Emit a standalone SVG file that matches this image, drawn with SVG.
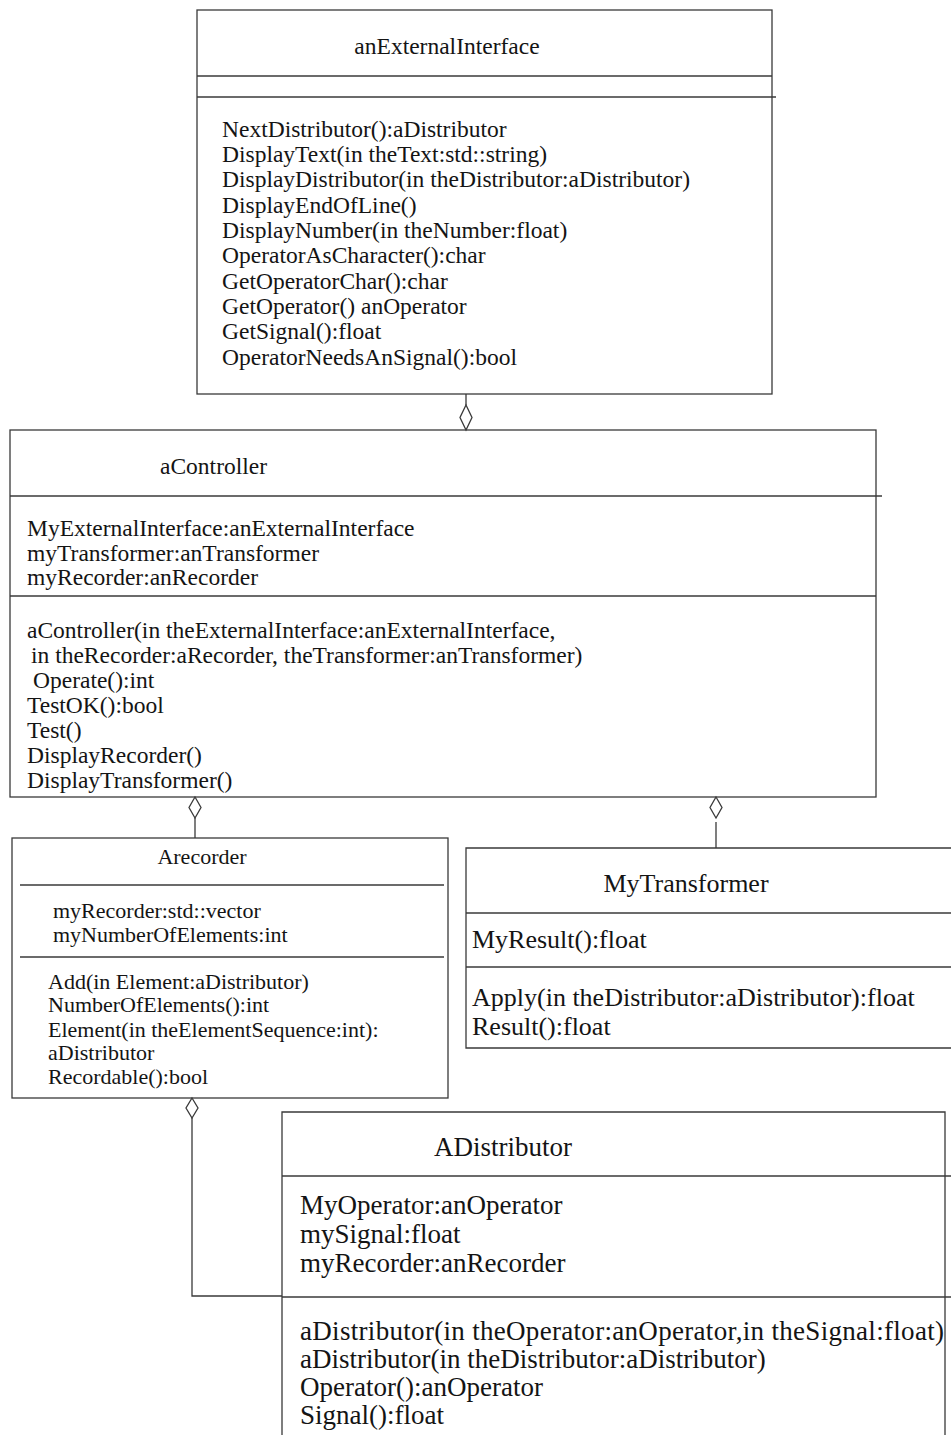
<svg xmlns="http://www.w3.org/2000/svg" width="951" height="1435" viewBox="0 0 951 1435">
<style>
.ln{fill:none;stroke:#3a3a3a;stroke-width:1.3}
.dm{fill:#fff;stroke:#3a3a3a;stroke-width:1.3}
.t{font-family:"Liberation Serif","Times New Roman",serif;fill:#141414}
.s23{font-size:23.5px}
.s22{font-size:22px}
.s26{font-size:26px}
.s27{font-size:27px}
.c{text-anchor:middle}
</style>
<rect width="951" height="1435" fill="#fff"/>
<g id="anExternalInterface">
<rect class="ln" x="197" y="10" width="575" height="384"/>
<line class="ln" x1="197" y1="76" x2="772" y2="76"/>
<line class="ln" x1="197" y1="97" x2="776" y2="97"/>
<text class="t s23 c" x="447" y="54">anExternalInterface</text>
<g class="t s23">
<text x="222" y="137">NextDistributor():aDistributor</text>
<text x="222" y="162">DisplayText(in theText:std::string)</text>
<text x="222" y="187">DisplayDistributor(in theDistributor:aDistributor)</text>
<text x="222" y="213">DisplayEndOfLine()</text>
<text x="222" y="238">DisplayNumber(in theNumber:float)</text>
<text x="222" y="263">OperatorAsCharacter():char</text>
<text x="222" y="289">GetOperatorChar():char</text>
<text x="222" y="314">GetOperator() anOperator</text>
<text x="222" y="339">GetSignal():float</text>
<text x="222" y="365">OperatorNeedsAnSignal():bool</text>
</g>
</g>
<g id="aController">
<rect class="ln" x="10" y="430" width="866" height="367"/>
<line class="ln" x1="10" y1="496" x2="882" y2="496"/>
<line class="ln" x1="10" y1="596" x2="876" y2="596"/>
<text class="t s23" x="160" y="474">aController</text>
<g class="t s23">
<text x="27" y="536">MyExternalInterface:anExternalInterface</text>
<text x="27" y="561">myTransformer:anTransformer</text>
<text x="27" y="585">myRecorder:anRecorder</text>
<text x="27" y="638">aController(in theExternalInterface:anExternalInterface,</text>
<text x="31" y="663">in theRecorder:aRecorder, theTransformer:anTransformer)</text>
<text x="33" y="688">Operate():int</text>
<text x="27" y="713">TestOK():bool</text>
<text x="27" y="738">Test()</text>
<text x="27" y="763">DisplayRecorder()</text>
<text x="27" y="788">DisplayTransformer()</text>
</g>
</g>
<g id="Arecorder">
<rect class="ln" x="12" y="838" width="436" height="260"/>
<line class="ln" x1="20" y1="885" x2="444" y2="885"/>
<line class="ln" x1="20" y1="957" x2="444" y2="957"/>
<text class="t s22 c" x="202" y="864">Arecorder</text>
<g class="t s22">
<text x="53" y="918">myRecorder:std::vector</text>
<text x="53" y="942">myNumberOfElements:int</text>
<text x="48" y="989">Add(in Element:aDistributor)</text>
<text x="48" y="1012">NumberOfElements():int</text>
<text x="48" y="1037">Element(in theElementSequence:int):</text>
<text x="48" y="1060">aDistributor</text>
<text x="48" y="1084">Recordable():bool</text>
</g>
</g>
<g id="MyTransformer">
<path class="ln" d="M951 848 H466 V1048 H951"/>
<line class="ln" x1="466" y1="913" x2="951" y2="913"/>
<line class="ln" x1="466" y1="967" x2="951" y2="967"/>
<text class="t s26 c" x="686" y="892">MyTransformer</text>
<g class="t s26">
<text x="472" y="948">MyResult():float</text>
<text x="472" y="1006">Apply(in theDistributor:aDistributor):float</text>
<text x="472" y="1035">Result():float</text>
</g>
</g>
<g id="ADistributor">
<path class="ln" d="M282 1435 V1112 H945 V1435"/>
<line class="ln" x1="282" y1="1176" x2="951" y2="1176"/>
<line class="ln" x1="282" y1="1297" x2="951" y2="1297"/>
<text class="t s27 c" x="503" y="1156">ADistributor</text>
<g class="t s27">
<text x="300" y="1214">MyOperator:anOperator</text>
<text x="300" y="1243">mySignal:float</text>
<text x="300" y="1272">myRecorder:anRecorder</text>
<text x="300" y="1340" textLength="644">aDistributor(in theOperator:anOperator,in theSignal:float)</text>
<text x="300" y="1368">aDistributor(in theDistributor:aDistributor)</text>
<text x="300" y="1396">Operator():anOperator</text>
<text x="300" y="1424">Signal():float</text>
</g>
</g>
<g id="connectors">
<line class="ln" x1="466" y1="394" x2="466" y2="405"/>
<polygon class="dm" points="466,405 472,417.5 466,430 460,417.5"/>
<polygon class="dm" points="195,797 201,807.5 195,818 189,807.5"/>
<line class="ln" x1="195" y1="818" x2="195" y2="838"/>
<polygon class="dm" points="716,797 722,807.5 716,818 710,807.5"/>
<line class="ln" x1="716" y1="822" x2="716" y2="848"/>
<polygon class="dm" points="192,1098 198,1108 192,1118 186,1108"/>
<polyline class="ln" points="192,1118 192,1296 282,1296"/>
</g>
</svg>
